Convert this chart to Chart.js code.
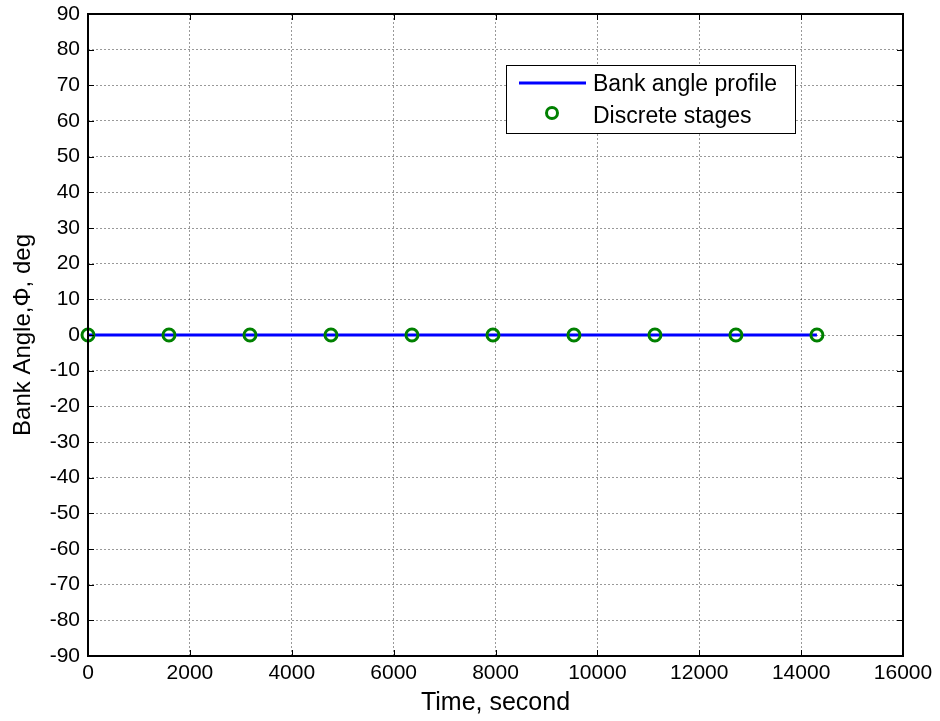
<!DOCTYPE html>
<html>
<head>
<meta charset="utf-8">
<script src="https://cdn.jsdelivr.net/npm/chart.js@4"></script>
<style>
  body { margin: 0; background: #fff; }
  #wrap { width: 940px; height: 721px; }
</style>
</head>
<body>
<div id="wrap"><canvas id="chart" width="940" height="721"></canvas></div>
<script>
// data
const stageTimes = [0, 1590, 3180, 4770, 6360, 7950, 9540, 11130, 12720, 14310];
const bankAngle = [0, 0, 0, 0, 0, 0, 0, 0, 0, 0];
const xTicks = [0, 2000, 4000, 6000, 8000, 10000, 12000, 14000, 16000];
const yTicks = [-90, -80, -70, -60, -50, -40, -30, -20, -10, 0, 10, 20, 30, 40, 50, 60, 70, 80, 90];

const FONT = 'Liberation Sans, Arial, sans-serif';
const BLUE = '#0000ff';
const GREEN = '#008000';

const points = stageTimes.map((t, i) => ({ x: t, y: bankAngle[i] }));

// MATLAB style box with inward ticks, plus the legend
const framePlugin = {
  id: 'frame',
  afterDraw(chart) {
    const { ctx, chartArea: a, scales } = chart;
    ctx.save();
    ctx.strokeStyle = '#000';
    ctx.lineWidth = 1;
    ctx.beginPath();
    xTicks.forEach((v) => {
      const px = Math.round(scales.x.getPixelForValue(v)) + 0.5;
      ctx.moveTo(px, a.bottom); ctx.lineTo(px, a.bottom - 6);
      ctx.moveTo(px, a.top); ctx.lineTo(px, a.top + 6);
    });
    yTicks.forEach((v) => {
      const py = Math.round(scales.y.getPixelForValue(v)) + 0.5;
      ctx.moveTo(a.left, py); ctx.lineTo(a.left + 6, py);
      ctx.moveTo(a.right, py); ctx.lineTo(a.right - 6, py);
    });
    ctx.stroke();
    ctx.lineWidth = 2;
    ctx.strokeRect(a.left, a.top, a.right - a.left, a.bottom - a.top);

    // legend
    const lx = 506, ly = 65, lw = 289, lh = 68;
    ctx.fillStyle = '#fff';
    ctx.fillRect(lx, ly, lw, lh);
    ctx.strokeStyle = '#000';
    ctx.lineWidth = 1;
    ctx.strokeRect(lx + 0.5, ly + 0.5, lw, lh);
    ctx.strokeStyle = BLUE;
    ctx.lineWidth = 3;
    ctx.beginPath();
    ctx.moveTo(519, 83); ctx.lineTo(586, 83);
    ctx.stroke();
    ctx.strokeStyle = GREEN;
    ctx.lineWidth = 3;
    ctx.beginPath();
    ctx.arc(552, 113, 5.5, 0, Math.PI * 2);
    ctx.stroke();
    ctx.fillStyle = '#000';
    ctx.font = '23px ' + FONT;
    ctx.textBaseline = 'middle';
    ctx.fillText('Bank angle profile', 593, 85);
    ctx.fillText('Discrete stages', 593, 117);
    ctx.restore();
  }
};

new Chart(document.getElementById('chart'), {
  type: 'scatter',
  data: {
    datasets: [
      {
        label: 'Discrete stages',
        data: points,
        showLine: false,
        pointStyle: 'circle',
        pointRadius: 6,
        pointBorderWidth: 3,
        pointBorderColor: GREEN,
        pointBackgroundColor: 'rgba(0,0,0,0)',
        clip: false,
        order: 0
      },
      {
        label: 'Bank angle profile',
        data: points,
        showLine: true,
        borderColor: BLUE,
        borderWidth: 3,
        pointRadius: 0,
        clip: false,
        order: 1
      }
    ]
  },
  options: {
    responsive: false,
    animation: false,
    layout: { padding: { left: 0, right: 37, top: 14, bottom: 0 } },
    plugins: { legend: { display: false }, tooltip: { enabled: false } },
    scales: {
      x: {
        type: 'linear',
        min: 0,
        max: 16000,
        afterFit(scale) { scale.height = 65; },
        afterBuildTicks(scale) { scale.ticks = xTicks.map((v) => ({ value: v })); },
        ticks: {
          color: '#000', font: { family: FONT, size: 21 }, padding: 5, maxRotation: 0,
          callback: (v) => String(v)
        },
        grid: { color: 'rgba(0,0,0,0.4)', drawTicks: false },
        border: { display: false, dash: [2, 2] },
        title: { display: true, text: 'Time, second', color: '#000', font: { family: FONT, size: 25 }, padding: { top: 0, bottom: 3 } }
      },
      y: {
        type: 'linear',
        min: -90,
        max: 90,
        afterFit(scale) {
          scale.width = 88;
          scale.paddingTop = 0;
          scale.paddingBottom = 0;
        },
        afterBuildTicks(scale) { scale.ticks = yTicks.map((v) => ({ value: v })); },
        ticks: {
          color: '#000', font: { family: FONT, size: 21 }, padding: 8, autoSkip: false,
          callback: (v) => String(v)
        },
        grid: { color: 'rgba(0,0,0,0.4)', drawTicks: false },
        border: { display: false, dash: [2, 2] },
        title: { display: true, text: 'Bank Angle,Φ, deg', color: '#000', font: { family: FONT, size: 24 }, padding: { top: 9, bottom: 0 } }
      }
    }
  },
  plugins: [framePlugin]
});
</script>
</body>
</html>
